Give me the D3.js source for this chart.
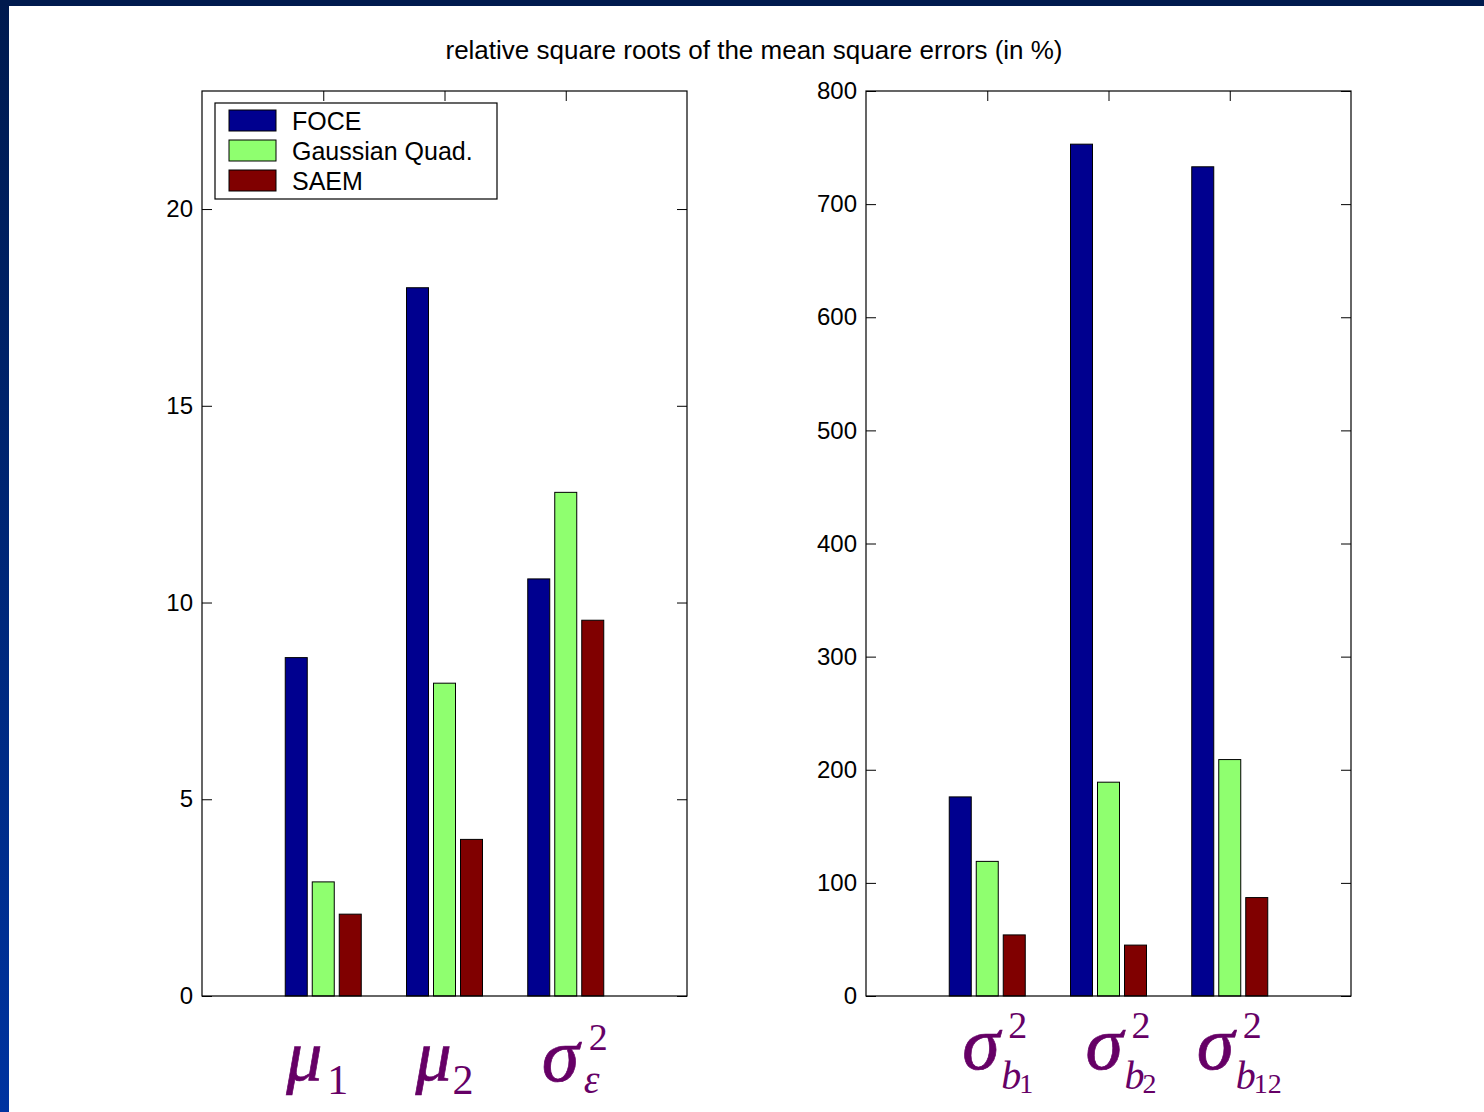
<!doctype html>
<html>
<head>
  <meta charset="UTF-8">
  <title>relative RMSE</title>
  <script src="https://d3js.org/d3.v7.min.js"></script>
  <style>
    body { margin: 0; background: #fff; }
  </style>
</head>
<body>
  <script>
    var W = 1484, H = 1112;
    var series = ["FOCE", "Gaussian Quad.", "SAEM"];
    var colors = ["#00008f", "#8fff6f", "#800000"];

    // left panel: fixed effects + residual variance
    var leftCats = ["mu1", "mu2", "sigmaEps"];
    var leftFoce = [8.6, 18.0, 10.6];
    var leftGauss = [2.9, 7.95, 12.8];
    var leftSaem = [2.08, 3.98, 9.55];
    var leftTicks = [0, 5, 10, 15, 20];

    // right panel: random effect variances
    var rightCats = ["b1", "b2", "b12"];
    var rightFoce = [176, 753, 733];
    var rightGauss = [119, 189, 209];
    var rightSaem = [54, 45, 87];
    var rightTicks = [0, 100, 200, 300, 400, 500, 600, 700, 800];

    var sans = "Arial, 'Liberation Sans', sans-serif";
    var serif = "'Liberation Serif', 'Times New Roman', serif";

    var svg = d3.select("body").append("svg")
      .attr("width", W)
      .attr("height", H);

    var grad = svg.append("defs").append("linearGradient")
      .attr("id", "edge")
      .attr("x1", 0).attr("y1", 0).attr("x2", 0).attr("y2", 1);
    grad.append("stop").attr("offset", "0%").attr("stop-color", "#001a4e");
    grad.append("stop").attr("offset", "100%").attr("stop-color", "#0033a0");

    svg.append("rect").attr("width", W).attr("height", H).attr("fill", "url(#edge)");
    svg.append("rect").attr("x", 0).attr("y", 0).attr("width", W).attr("height", 6).attr("fill", "#001a4e");
    svg.append("rect").attr("x", 9).attr("y", 6).attr("width", W - 9).attr("height", H - 6).attr("fill", "#fff");

    svg.append("text")
      .attr("x", 754).attr("y", 59)
      .attr("text-anchor", "middle")
      .style("font-family", sans)
      .style("font-size", "26px")
      .attr("fill", "#000")
      .text("relative square roots of the mean square errors (in %)");

    function panel(left, ymax, cats, vals, ticks) {
      var top = 91, bottom = 996, width = 485;
      var x = d3.scaleLinear().domain([0, 4]).range([left, left + width]);
      var y = d3.scaleLinear().domain([0, ymax]).range([bottom, top]);
      var g = svg.append("g");

      // bars
      var offs = [-27, 0, 27], bw = 22;
      vals.forEach(function(arr, s) {
        g.selectAll(null)
          .data(arr)
          .enter().append("rect")
          .attr("x", function(d, i) { return x(i + 1) + offs[s] - bw / 2; })
          .attr("y", function(d) { return y(d); })
          .attr("width", bw)
          .attr("height", function(d) { return y(0) - y(d); })
          .attr("fill", colors[s])
          .attr("stroke", "#000")
          .attr("stroke-width", 1);
      });

      // box
      g.append("rect")
        .attr("x", left).attr("y", top)
        .attr("width", width).attr("height", bottom - top)
        .attr("fill", "none").attr("stroke", "#000").attr("stroke-width", 1.2);

      var ax = g.append("g")
        .attr("transform", "translate(" + left + ",0)")
        .call(d3.axisLeft(y).tickValues(ticks).tickSize(-10).tickPadding(9));
      ax.select(".domain").remove();
      ax.selectAll("text")
        .style("font-family", sans)
        .style("font-size", "24px")
        .attr("fill", "#000");

      var axr = g.append("g")
        .attr("transform", "translate(" + (left + width) + ",0)")
        .call(d3.axisRight(y).tickValues(ticks).tickSize(-10).tickFormat(""));
      axr.select(".domain").remove();

      var axt = g.append("g")
        .attr("transform", "translate(0," + top + ")")
        .call(d3.axisTop(x).tickValues([1, 2, 3]).tickSize(-10).tickFormat(""));
      axt.select(".domain").remove();

      return x;
    }

    var xl = panel(202, 23, leftCats, [leftFoce, leftGauss, leftSaem], leftTicks);
    var xr = panel(866, 800, rightCats, [rightFoce, rightGauss, rightSaem], rightTicks);

    // legend
    var lg = svg.append("g");
    lg.append("rect")
      .attr("x", 215).attr("y", 103).attr("width", 282).attr("height", 96)
      .attr("fill", "#fff").attr("stroke", "#000").attr("stroke-width", 1.2);
    series.forEach(function(name, i) {
      lg.append("rect")
        .attr("x", 229).attr("y", 110 + i * 30)
        .attr("width", 47).attr("height", 21)
        .attr("fill", colors[i]).attr("stroke", "#000").attr("stroke-width", 1);
      lg.append("text")
        .attr("x", 292).attr("y", 130 + i * 30)
        .style("font-family", sans)
        .style("font-size", "25px")
        .attr("fill", "#000")
        .text(name);
    });

    // math category labels
    var purple = "#660066";
    function t(x, y, size, italic, str, heavy) {
      svg.append("text")
        .attr("x", x).attr("y", y)
        .style("font-family", serif)
        .style("font-style", italic ? "italic" : "normal")
        .style("font-size", size + "px")
        .attr("fill", purple)
        .attr("stroke", heavy ? purple : "none")
        .attr("stroke-width", heavy ? 0.7 : 0)
        .text(str);
    }

    // mu_1, mu_2
    var c1 = xl(1), c2 = xl(2), c3 = xl(3);
    t(c1 - 37, 1080, 72, true, "\u03bc", true);
    t(c1 + 4, 1094, 42, false, "1");
    t(c2 - 29, 1080, 72, true, "\u03bc", true);
    t(c2 + 8, 1094, 42, false, "2");
    // sigma_eps^2
    t(c3 - 24, 1081, 76, true, "\u03c3", true);
    t(c3 + 23, 1050, 38, false, "2");
    t(c3 + 18, 1093, 40, true, "\u03b5");

    // sigma_b^2
    var subs = ["1", "2", "12"];
    var sx = [-25, -23, -33];
    subs.forEach(function(s, i) {
      var cx = xr(i + 1) + sx[i];
      t(cx, 1069, 76, true, "\u03c3", true);
      t(cx + 46, 1038, 38, false, "2");
      t(cx + 39, 1089, 40, true, "b");
      t(cx + 57, 1093, 28, false, s);
    });
  </script>
</body>
</html>
